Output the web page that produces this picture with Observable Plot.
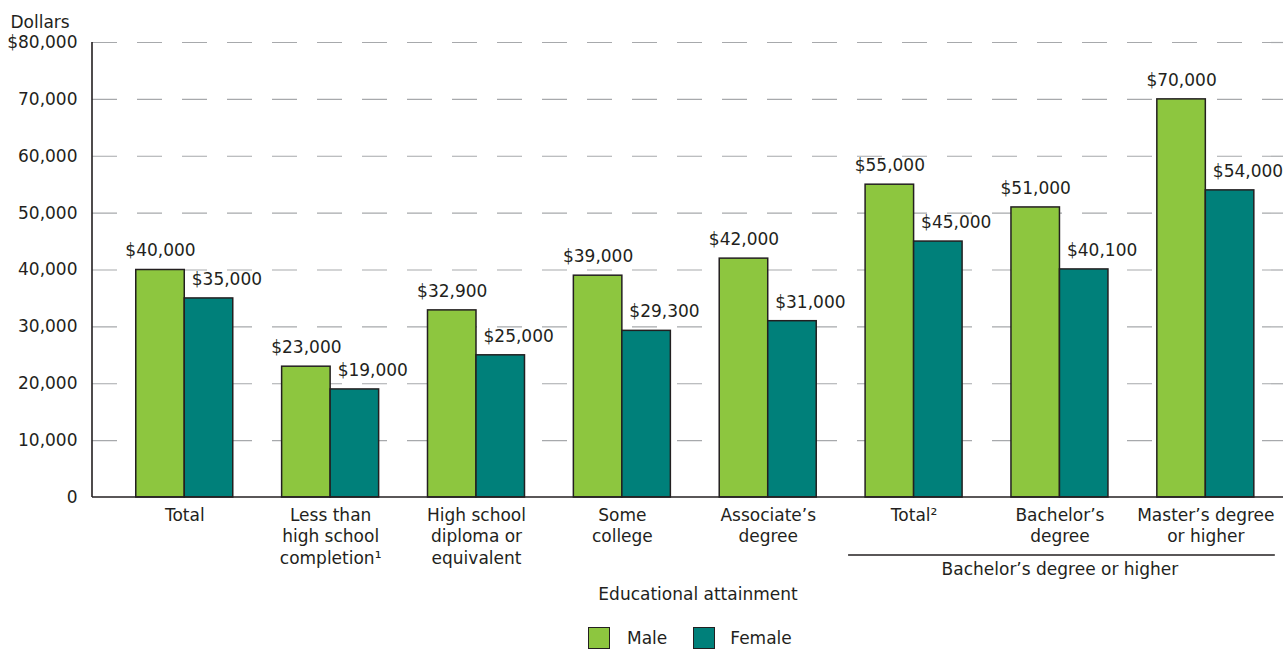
<!DOCTYPE html>
<html>
<head>
<meta charset="utf-8">
<script src="https://cdn.jsdelivr.net/npm/d3@7"></script>
<script src="https://cdn.jsdelivr.net/npm/@observablehq/plot@0.6"></script>
<style>
  body { margin: 0; background: #fff; font-family: "DejaVu Sans", sans-serif; color: #231f20; }
  #legend { display: flex; align-items: center; height: 28px; font-size: 17px; }
  .sw { width: 20px; height: 20px; border: 1.5px solid #231f20; display: inline-block; }
</style>
</head>
<body>
<div id="chart"></div>
<div id="legend"></div>
<script>
// ---- data ----
const categories = ["total", "lessHS", "hs", "someCollege", "associate", "baTotal", "bachelor", "master"];
const categoryLabels = [
  "Total",
  "Less than\nhigh school\ncompletion\u00b9",
  "High school\ndiploma or\nequivalent",
  "Some\ncollege",
  "Associate\u2019s\ndegree",
  "Total\u00b2",
  "Bachelor\u2019s\ndegree",
  "Master\u2019s degree\nor higher"
];
const maleValues   = [40000, 23000, 32900, 39000, 42000, 55000, 51000, 70000];
const femaleValues = [35000, 19000, 25000, 29300, 31000, 45000, 40100, 54000];
const valueLabelsMale   = ["$40,000", "$23,000", "$32,900", "$39,000", "$42,000", "$55,000", "$51,000", "$70,000"];
const valueLabelsFemale = ["$35,000", "$19,000", "$25,000", "$29,300", "$31,000", "$45,000", "$40,100", "$54,000"];
const yTicks = [0, 10000, 20000, 30000, 40000, 50000, 60000, 70000, 80000];
const seriesNames = ["Male", "Female"];
const seriesColors = ["#8dc63f", "#00807a"];
const bracketGroup = ["baTotal", "master"];
const bracketLabel = "Bachelor\u2019s degree or higher";
const bracketCenter = "bachelor";
const xTitle = "Educational attainment";
const yTitle = "Dollars";

// ---- layout ----
const ink = "#231f20";
const W = 1283, H = 624;
const mL = 92, mR = 0, mT = 42, mB = H - 497;
const padIn = 0.335, padOut = 0.25, align = 0.6;
const bw = d3.scaleBand().domain(categories).range([mL, W - mR])
  .paddingInner(padIn).paddingOuter(padOut).align(align).bandwidth();
const half = bw / 2;

const rows = categories.map((c, i) => ({
  cat: c, label: categoryLabels[i],
  male: maleValues[i], female: femaleValues[i],
  mLab: valueLabelsMale[i], fLab: valueLabelsFemale[i]
}));

function decorations(index, scales, values, dimensions) {
  const x = scales.x, y = scales.y;
  const b = x.bandwidth ? x.bandwidth() : bw;
  const y0 = y(0);
  const g = d3.create("svg:g").attr("stroke", ink).attr("fill", "none");
  g.append("line").attr("x1", mL).attr("x2", mL).attr("y1", y(80000)).attr("y2", y0).attr("stroke-width", 1.6);
  g.append("line").attr("x1", mL).attr("x2", W - mR).attr("y1", y0).attr("y2", y0).attr("stroke-width", 1.6);
  g.append("line")
    .attr("x1", x(bracketGroup[0]) - 17).attr("x2", x(bracketGroup[1]) + b + 21)
    .attr("y1", y0 + 58).attr("y2", y0 + 58).attr("stroke-width", 1.3);
  return g.node();
}

const chart = Plot.plot({
  width: W, height: H,
  marginLeft: mL, marginRight: mR, marginTop: mT, marginBottom: mB,
  style: { fontSize: "17px", fontFamily: "'DejaVu Sans', sans-serif", color: ink, background: "#fff" },
  x: { domain: categories, paddingInner: padIn, paddingOuter: padOut, align: align, round: false, axis: null },
  y: { domain: [0, 80000], axis: null },
  marks: [
    Plot.ruleY(yTicks.filter(d => d > 0), { stroke: "#a7a9ac", strokeWidth: 1.2, strokeDasharray: "25,20" }),
    Plot.axisY(yTicks, {
      tickSize: 0, tickPadding: 15, label: null,
      tickFormat: d => (d === 80000 ? "$" : "") + d3.format(",")(d),
      fill: ink
    }),
    Plot.barY(rows, { x: "cat", y: "male", fill: seriesColors[0], stroke: ink, strokeWidth: 1.5, insetRight: half }),
    Plot.barY(rows, { x: "cat", y: "female", fill: seriesColors[1], stroke: ink, strokeWidth: 1.5, insetLeft: half }),
    Plot.text(rows, { x: "cat", y: "male", text: "mLab", dx: -half / 2, dy: -19, fill: ink }),
    Plot.text(rows, { x: "cat", y: "female", text: "fLab", textAnchor: "start", dx: 7, dy: -19, fill: ink }),
    Plot.text(rows, { x: "cat", text: "label", frameAnchor: "bottom", lineAnchor: "top", dy: 8, lineHeight: 1.27, fill: ink }),
    Plot.text([bracketLabel], { x: () => bracketCenter, frameAnchor: "bottom", dy: 77, fill: ink }),
    Plot.text([xTitle], { frameAnchor: "bottom", dx: 10, dy: 102, fill: ink }),
    Plot.text([yTitle], { frameAnchor: "top-left", textAnchor: "start", dx: -82, dy: -27, fill: ink }),
    decorations
  ]
});
document.getElementById("chart").appendChild(chart);

// ---- legend ----
const legend = d3.select("#legend").style("padding-left", "588px");
seriesNames.forEach((name, i) => {
  legend.append("span").attr("class", "sw").style("background", seriesColors[i])
    .style("margin-left", i === 0 ? "0px" : "26px");
  legend.append("span").text(name).style("margin-left", i === 0 ? "17px" : "15px");
});
</script>
</body>
</html>
